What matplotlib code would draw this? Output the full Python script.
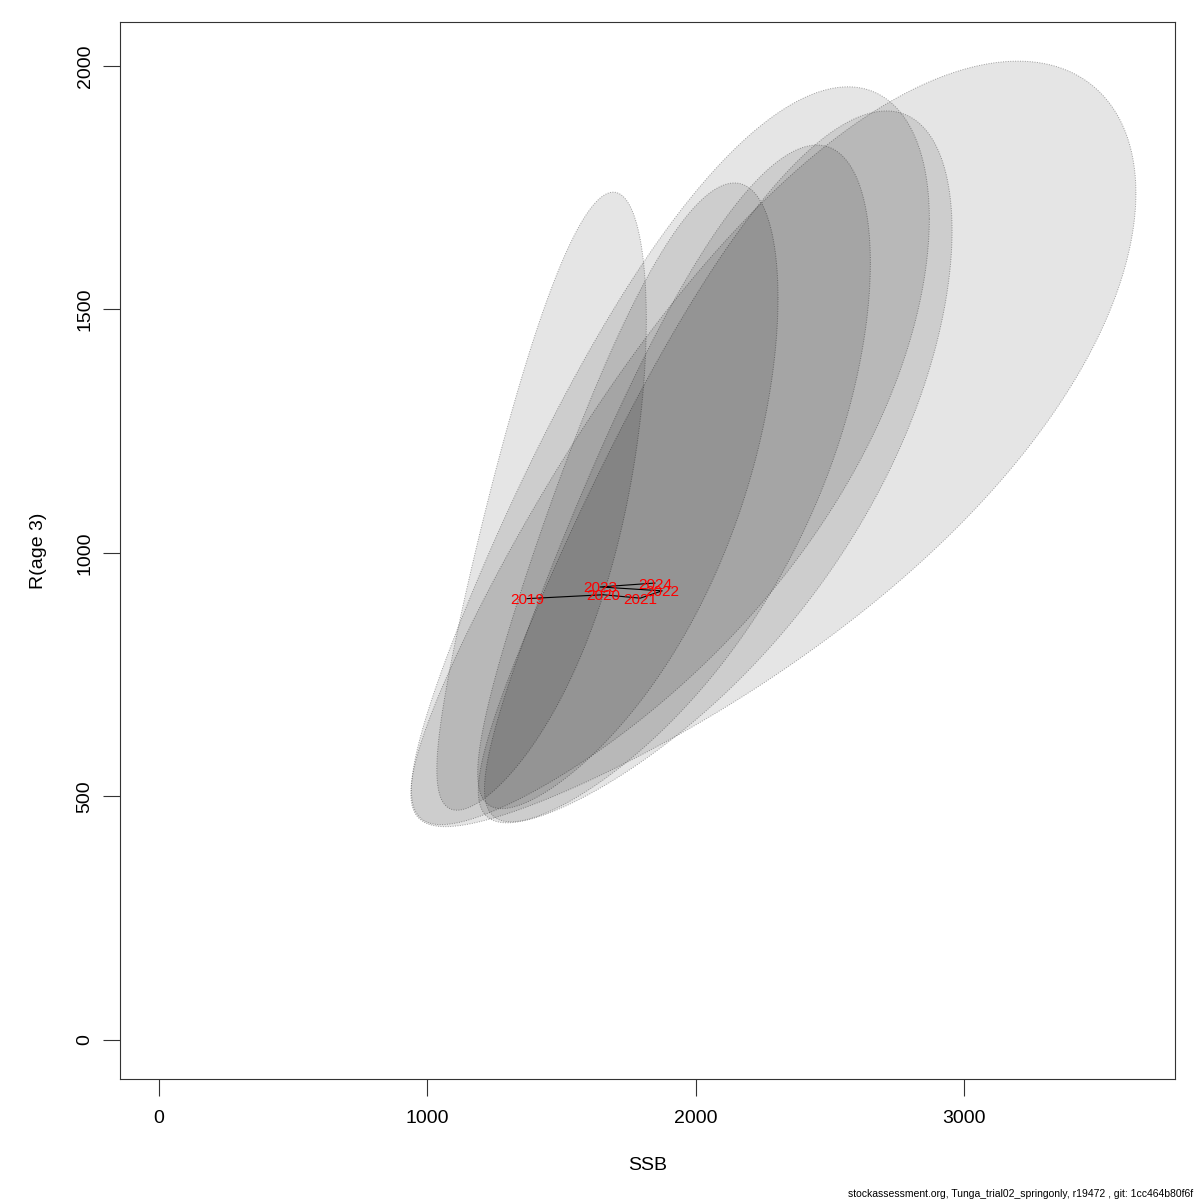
import numpy as np
import matplotlib
matplotlib.use("Agg")
import matplotlib.pyplot as plt
from matplotlib.patches import Polygon

plt.rcParams['font.family'] = ['Liberation Sans', 'DejaVu Sans']

# Data
years = ["2019", "2020", "2021", "2022", "2023", "2024"]
ssb = [1371, 1655, 1793, 1875, 1643, 1848]
rec = [906, 914, 907, 922, 930, 938]
# log-scale half-widths of the confidence region and correlation
half_log_ssb = [0.281, 0.332, 0.391, 0.455, 0.558, 0.678]
half_log_rec = [0.653, 0.655, 0.706, 0.727, 0.744, 0.762]
rho = [0.75, 0.78, 0.80, 0.81, 0.80, 0.81]

xticks = [0, 1000, 2000, 3000]
yticks = [0, 500, 1000, 1500, 2000]
footer = "stockassessment.org, Tunga_trial02_springonly, r19472 , git: 1cc464b80f6f"

fig = plt.figure(figsize=(12, 12), dpi=100)
ax = fig.add_axes([120/1200, 1 - 1079/1200, (1175-120)/1200, (1079-22)/1200])

t = np.linspace(0, 2*np.pi, 400)
for i in range(len(years)):
    lx = np.log(ssb[i]) + half_log_ssb[i]*np.cos(t)
    ly = np.log(rec[i]) + half_log_rec[i]*(rho[i]*np.cos(t) + np.sqrt(1-rho[i]**2)*np.sin(t))
    pts = np.column_stack([np.exp(lx), np.exp(ly)])
    poly = Polygon(pts, closed=True, facecolor=(0, 0, 0, 0.1),
                   edgecolor=(0, 0, 0, 0.35), linestyle=(0, (1, 1.5)), linewidth=0.7)
    ax.add_patch(poly)

ax.plot(ssb, rec, color='black', linewidth=0.8)
for i, y in enumerate(years):
    ax.text(ssb[i], rec[i], y, color='red', fontsize=11, ha='center', va='center_baseline')

# limits as R would (4% extension)
xmax = max(np.exp(np.log(s) + h) for s, h in zip(ssb, half_log_ssb))
ymax = max(np.exp(np.log(r) + h) for r, h in zip(rec, half_log_rec))
ax.set_xlim(-0.04*xmax, xmax*1.04)
ax.set_ylim(-0.04*ymax, ymax*1.04)

# R-style axes
for s in ax.spines.values():
    s.set_linewidth(0.8)
    s.set_color('#333333')
ax.set_xticks(xticks)
ax.set_yticks(yticks)
ax.set_xticklabels([str(v) for v in xticks])
ax.set_yticklabels([str(v) for v in yticks], rotation=90, va='center')
ax.tick_params(axis='both', direction='out', length=12, width=0.8, color='#333333',
               labelsize=14)
ax.tick_params(axis='x', pad=10)
ax.tick_params(axis='y', pad=7)
ax.set_xlabel("SSB", fontsize=14, labelpad=22)
ax.set_ylabel("R(age 3)", fontsize=14, labelpad=21)

fig.text(1193/1200, 1 - 1194/1200, footer, fontsize=7.5, ha='right', va='center')

fig.savefig("out.png", dpi=100)
